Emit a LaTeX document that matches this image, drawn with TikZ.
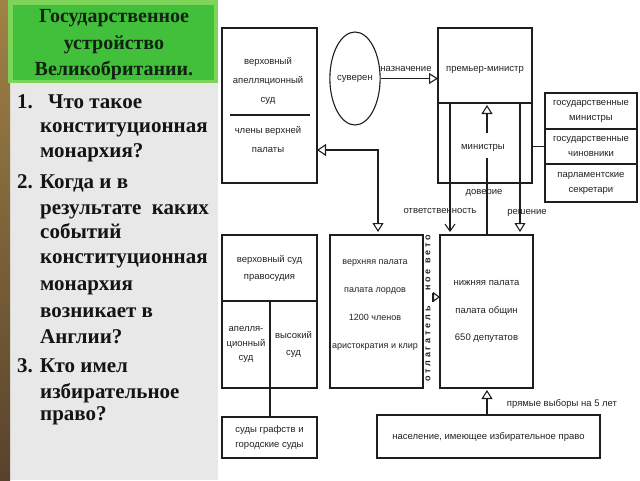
\documentclass[tikz,border=0pt]{standalone}
\usepackage{fontspec}
\setmainfont{Liberation Serif}
\newfontfamily\dsans{Liberation Sans}
\usetikzlibrary{arrows.meta,shapes.geometric}
\definecolor{panelgrey}{RGB}{232,232,232}
\definecolor{photo}{RGB}{88,66,44}
\definecolor{photogold}{RGB}{160,130,70}
\definecolor{lightgreen}{RGB}{125,214,90}
\definecolor{titlegreen}{RGB}{66,192,60}
\definecolor{titleink}{RGB}{15,35,15}
\definecolor{ink}{RGB}{30,30,30}
\definecolor{txt}{RGB}{35,35,35}
\begin{document}
\begin{tikzpicture}[x=1pt,y=-1pt,
  box/.style={draw=ink,line width=1.2pt,inner sep=0pt,outer sep=0pt,align=center,text=txt},
  ls/.style={font=\dsans\fontsize{9.5}{#1}\selectfont},
  lbl/.style={text=txt,align=center,inner sep=1pt,ls=12},
  qline/.style={anchor=base west,font=\bfseries\fontsize{21}{25}\selectfont,inner sep=0pt,text=black!92},
  veto/.style={font=\dsans\bfseries\fontsize{9}{10}\selectfont\addfontfeature{LetterSpace=32},text=txt,inner sep=0pt},
  conn/.style={draw=ink,line width=1.1pt},
  tri/.style={conn,-{Triangle[open,length=9pt,width=11pt]}},
]
\useasboundingbox (0,0) rectangle (640,480);
% background
\fill[white] (0,0) rectangle (640,480);
\fill[panelgrey] (10,0) rectangle (218,480);
\shade[top color=photogold,bottom color=photo] (0,0) rectangle (10,480);
% title
\fill[lightgreen] (8,0) rectangle (218,83);
\fill[titlegreen] (13,5) rectangle (214,80);
\node[font=\bfseries\fontsize{20}{26.5}\selectfont,align=center,text=titleink,inner sep=0pt] (title) at (114,45) {Государственное\\устройство\\Великобритании.};
% questions
\node[qline] (q1n) at (17,108) {1.};
\node[qline] (q1a) at (48,108) {Что такое};
\node[qline] (q1b) at (40,132) {конституционная};
\node[qline] (q1c) at (40,157) {монархия?};
\node[qline] (q2a) at (17,188) {2. Когда и в};
\node[qline] (q2b) at (40,214) {результате\ \ каких};
\node[qline] (q2c) at (40,238) {событий};
\node[qline] (q2d) at (40,263) {конституционная};
\node[qline] (q2e) at (40,290) {монархия};
\node[qline] (q2f) at (40,317) {возникает в};
\node[qline] (q2g) at (40,343) {Англии?};
\node[qline] (q3a) at (17,372) {3. Кто имел};
\node[qline] (q3b) at (40,398) {избирательное};
\node[qline] (q3c) at (40,420) {право?};
% diagram boxes
\node[box,minimum width=95pt,minimum height=155pt] (A) at (269.5,105.5) {};
\draw[conn] (230,115) -- (310,115);
\node[lbl,ls=19] (A1) at (268,81) {верховный\\апелляционный\\суд};
\node[lbl,ls=19] (A2) at (268,139.5) {члены верхней\\палаты};
\node[draw=ink,line width=1.1pt,ellipse,minimum width=50pt,minimum height=93pt,inner sep=0pt,text=txt,ls=12] (S) at (355,78.5) {суверен};
\node[box,minimum width=94pt,minimum height=75pt] (P1) at (485,65.5) {};
\node[box,minimum width=94pt,minimum height=80pt] (P2) at (485,143) {};
\node[lbl] (pm) at (485,70) {премьер-министр};
\node[lbl] (mn) at (483,148) {министры};
\node[box,minimum width=92pt,minimum height=36pt,ls=15] (M1) at (591,111) {государственные\\министры};
\node[box,minimum width=92pt,minimum height=35pt,ls=15] (M2) at (591,146.5) {государственные\\чиновники};
\node[box,minimum width=92pt,minimum height=38pt,ls=15] (M3) at (591,183) {парламентские\\секретари};
\node[box,minimum width=95pt,minimum height=66pt,ls=17] (Ct) at (269.5,268) {верховный суд\\правосудия};
\node[box,minimum width=48pt,minimum height=87pt,ls=14.5] (Cl) at (246,344.5) {апелля-\\ционный\\суд};
\node[box,minimum width=47pt,minimum height=87pt,ls=17] (Cr) at (293.5,344.5) {высокий\\суд};
\node[box,minimum width=95pt,minimum height=41pt,ls=15] (G) at (269.5,437.5) {суды графств и\\городские суды};
\node[box,minimum width=93pt,minimum height=153pt] (U) at (376.5,311.5) {};
\node[lbl,font=\dsans\fontsize{9}{28}\selectfont] (Ut) at (375,305.5) {верхняя палата\\палата лордов\\1200 членов\\аристократия и клир};
\node[box,minimum width=93pt,minimum height=153pt,ls=27.5] (L) at (486.5,311.5) {нижняя палата\\палата общин\\650 депутатов};
\node[box,minimum width=223pt,minimum height=43pt,ls=12] (N) at (488.5,436.5) {население, имеющее избирательное право};
% connector labels
\node[lbl] (naz) at (406,69) {назначение};
\node[lbl] (dov) at (484,193) {доверие};
\node[lbl] (otv) at (440,211) {ответственность};
\node[lbl] (res) at (527,213) {решение};
\node[lbl] (pv) at (562,404) {прямые выборы на 5 лет};
\node[veto,rotate=90] (v1) at (428,344) {отлагатель};
\node[veto,rotate=90] (v2) at (428,263) {ное вето};
% coordinates
\coordinate (mnTop) at (487,133);
\coordinate (mnBot) at (487,158);
\coordinate (xl) at (450,0);
\coordinate (xr) at (520,0);
\coordinate (cAU) at (378,150);
\coordinate (cV) at (432,297);
\coordinate (cN) at (487,0);
\coordinate (cC) at (270,388);
% connectors
\draw[tri] (S.east) -- (P1.west |- S.east);
\draw[tri,shorten >=2pt] (mnTop) -- (P1.south -| mnTop);
\draw[conn] (mnBot) -- (L.north -| mnBot);
\draw[conn,-{Straight Barb[length=7pt,width=10pt]},shorten >=3pt] (P1.south -| xl) -- (L.north -| xl);
\draw[tri,shorten >=3pt] (P1.south -| xr) -- (L.north -| xr);
\draw[conn] (P2.east |- M2.west) -- (M2.west);
\draw[conn,{Triangle[open,length=9pt,width=12pt]}-{Triangle[open,length=9pt,width=11pt]},shorten >=3pt] (A.east |- cAU) -- (cAU) -- (U.north -| cAU);
\draw[conn,{Bar[width=9pt,line width=1.8pt]}-{Triangle[open,length=7pt,width=10pt]}] (cV) -- (L.west |- cV);
\draw[tri,shorten >=2pt] (N.north -| cN) -- (L.south -| cN);
\draw[conn] (cC) -- (G.north -| cC);
\end{tikzpicture}
\end{document}
